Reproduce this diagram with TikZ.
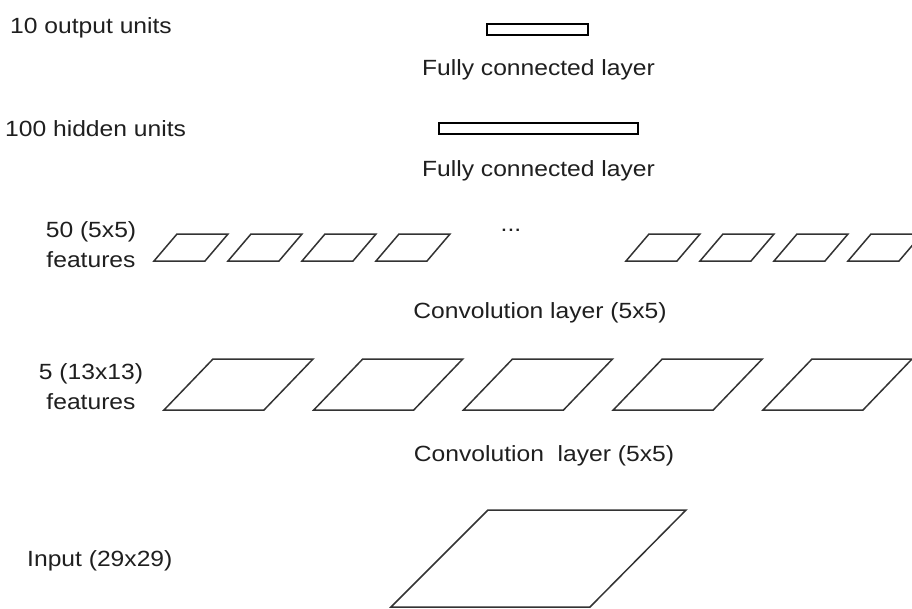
\documentclass[tikz,border=0pt]{standalone}
\usepackage{fontspec}
\setmainfont{Liberation Sans}[FakeStretch=1.12]
\begin{document}
\begin{tikzpicture}[x=1pt,y=-1pt,
  lbl/.style={inner sep=0pt, font=\fontsize{22}{26}\selectfont, text=black!88},
  unitbox/.style={draw=black, line width=1.6pt},
  featmap/.style={draw=black!80, line width=1.5pt, line join=miter}]
\clip (0,0) rectangle (912,608);
\fill[white] (0,0) rectangle (912,608);

% fully connected layers
\node[unitbox, minimum width=101pt, minimum height=11pt, inner sep=0pt] (out) at (537.5,29.5) {};
\node[unitbox, minimum width=199pt, minimum height=11pt, inner sep=0pt] (hid) at (538.5,128.5) {};

% left-hand captions
\node[lbl, anchor=base west] (tout) at (10,33) {10 output units};
\node[lbl, anchor=base west] (thid) at (5,136) {100 hidden units};
\node[lbl, anchor=base] (t50a) at (91,237) {50 (5x5)};
\node[lbl, anchor=base] (t50b) at (91,267) {features};
\node[lbl, anchor=base] (t5a) at (91,379) {5 (13x13)};
\node[lbl, anchor=base] (t5b) at (91,409) {features};
\node[lbl, anchor=base west] (tin) at (27,566) {Input (29x29)};

% layer captions
\node[lbl, anchor=base] (fc1) at (538.5,75) {Fully connected layer};
\node[lbl, anchor=base] (fc2) at (538.5,176) {Fully connected layer};
\node[lbl, anchor=base] (cv1) at (540,318) {Convolution layer (5x5)};
\node[lbl, anchor=base] (cv2) at (544,461) {Convolution\ \ layer (5x5)};
\node[lbl, anchor=base] (dots) at (511,231) {...};

% 50 feature maps (5x5)
\foreach \x in {154,228,302,376,626,700,774,848}
  \draw[featmap] (\x,261) -- (\x+51,261) -- (\x+74,234) -- (\x+23,234) -- cycle;

% 5 feature maps (13x13)
\foreach \i in {0,...,4}
  \draw[featmap] (164+149.75*\i,410) -- (264+149.75*\i,410)
                 -- (313+149.75*\i,359) -- (213+149.75*\i,359) -- cycle;

% input image (29x29)
\draw[featmap] (391,607) -- (590,607) -- (686,510) -- (488,510) -- cycle;
\end{tikzpicture}
\end{document}
